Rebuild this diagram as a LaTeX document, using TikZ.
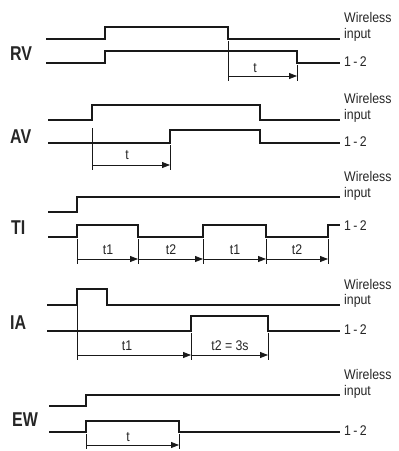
\documentclass[tikz,border=0pt]{standalone}
\usepackage{fontspec}
\setmainfont{Liberation Sans}[FakeStretch=0.88]
\newfontfamily\lblfont{Liberation Sans}[FakeStretch=0.8]
\usetikzlibrary{arrows.meta}
\begin{document}
\begin{tikzpicture}[x=1pt,y=-1pt,
  sig/.style={line width=2.8pt, line join=miter, line cap=butt, color=black!90},
  dimline/.style={line width=0.75pt, color=black!90},
  dimarrow/.style={line width=0.75pt, color=black!90, -{Triangle[length=8pt,width=6pt]}},
  txt/.style={font=\fontsize{14}{14}\selectfont, inner sep=0pt, anchor=west, text=black!85},
  tlbl/.style={font=\fontsize{14}{14}\selectfont, inner sep=0pt, text=black!85},
  modelbl/.style={font=\lblfont\bfseries\fontsize{20}{20}\selectfont, inner sep=0pt, anchor=west, text=black!85}]
\useasboundingbox (0,0) rectangle (399,451);

% ---------- RV ----------
\node[modelbl] (rv) at (10,54) {RV};
\draw[sig] (46,39) -- (105,39) -- (105,27) -- (228,27) -- (228,39) -- (340,39);
\draw[sig] (46,63) -- (105,63) -- (105,51) -- (297,51) -- (297,63) -- (340,63);
\coordinate (rva) at (228,76); \coordinate (rvb) at (297,76);
\draw[dimline] (228,41) -- (228,81);
\draw[dimline] (297,65) -- (297,81);
\draw[dimarrow] (rva) -- (rvb);
\node[tlbl] (rvt) at (255,68) {t};
\node[txt] (rvw) at (344,17) {Wireless};
\node[txt] (rvi) at (344,35) {input};
\node[txt] (rvo) at (344,62) {1\,-\,2};

% ---------- AV ----------
\node[modelbl] (av) at (10,137) {AV};
\draw[sig] (48,120) -- (92,120) -- (92,105) -- (260,105) -- (260,120) -- (340,120);
\draw[sig] (48,143) -- (170,143) -- (170,130) -- (260,130) -- (260,143) -- (340,143);
\coordinate (ava) at (92,165); \coordinate (avb) at (170,165);
\draw[dimline] (92,128) -- (92,170);
\draw[dimline] (170,145) -- (170,170);
\draw[dimarrow] (ava) -- (avb);
\node[tlbl] (avt) at (127,155) {t};
\node[txt] (avw) at (344,98) {Wireless};
\node[txt] (avi) at (344,116) {input};
\node[txt] (avo) at (344,142) {1\,-\,2};

% ---------- TI ----------
\node[modelbl] (ti) at (11,228) {TI};
\draw[sig] (48,212) -- (77,212) -- (77,197) -- (340,197);
\draw[sig] (48,237) -- (77,237) -- (77,225) -- (138,225) -- (138,237) -- (203,237)
  -- (203,225) -- (266,225) -- (266,237) -- (328,237) -- (328,225) -- (340,225);
\foreach \x in {77,138,203,266,328} { \draw[dimline] (\x,239) -- (\x,264); }
\coordinate (ti0) at (77,259); \coordinate (ti1) at (138,259);
\coordinate (ti2) at (203,259); \coordinate (ti3) at (266,259);
\coordinate (ti4) at (328,259);
\draw[dimarrow] (ti0) -- (ti1);
\draw[dimarrow] (ti1) -- (ti2);
\draw[dimarrow] (ti2) -- (ti3);
\draw[dimarrow] (ti3) -- (ti4);
\node[tlbl] (tit1) at (108,250) {t1};
\node[tlbl] (tit2) at (171,250) {t2};
\node[tlbl] (tit3) at (235,250) {t1};
\node[tlbl] (tit4) at (297,250) {t2};
\node[txt] (tiw) at (344,176) {Wireless};
\node[txt] (tii) at (344,194) {input};
\node[txt] (tio) at (344,226) {1\,-\,2};

% ---------- IA ----------
\node[modelbl] (ia) at (10,323) {IA};
\draw[sig] (47,305) -- (77,305) -- (77,289) -- (107,289) -- (107,305) -- (340,305);
\draw[sig] (47,331) -- (191,331) -- (191,316) -- (268,316) -- (268,331) -- (340,331);
\draw[dimline] (77,300) -- (77,360);
\draw[dimline] (191,333) -- (191,360);
\draw[dimline] (268,333) -- (268,360);
\coordinate (ia0) at (77,355); \coordinate (ia1) at (191,355); \coordinate (ia2) at (268,355);
\draw[dimarrow] (ia0) -- (ia1);
\draw[dimarrow] (ia1) -- (ia2);
\node[tlbl] (iat1) at (127,346) {t1};
\node[tlbl] (iat2) at (230,346) {t2 = 3s};
\node[txt] (iaw) at (344,284) {Wireless};
\node[txt] (iai) at (344,301) {input};
\node[txt] (iao) at (344,330) {1\,-\,2};

% ---------- EW ----------
\node[modelbl] (ew) at (12,420) {EW};
\draw[sig] (49,406) -- (86,406) -- (86,395) -- (340,395);
\draw[sig] (49,432) -- (86,432) -- (86,421) -- (179,421) -- (179,432) -- (340,432);
\draw[dimline] (86,434) -- (86,449);
\draw[dimline] (179,434) -- (179,449);
\coordinate (ew0) at (86,445); \coordinate (ew1) at (179,445);
\draw[dimarrow] (ew0) -- (ew1);
\node[tlbl] (ewt) at (128,437) {t};
\node[txt] (eww) at (344,374) {Wireless};
\node[txt] (ewi) at (344,392) {input};
\node[txt] (ewo) at (344,431) {1\,-\,2};
\end{tikzpicture}
\end{document}
